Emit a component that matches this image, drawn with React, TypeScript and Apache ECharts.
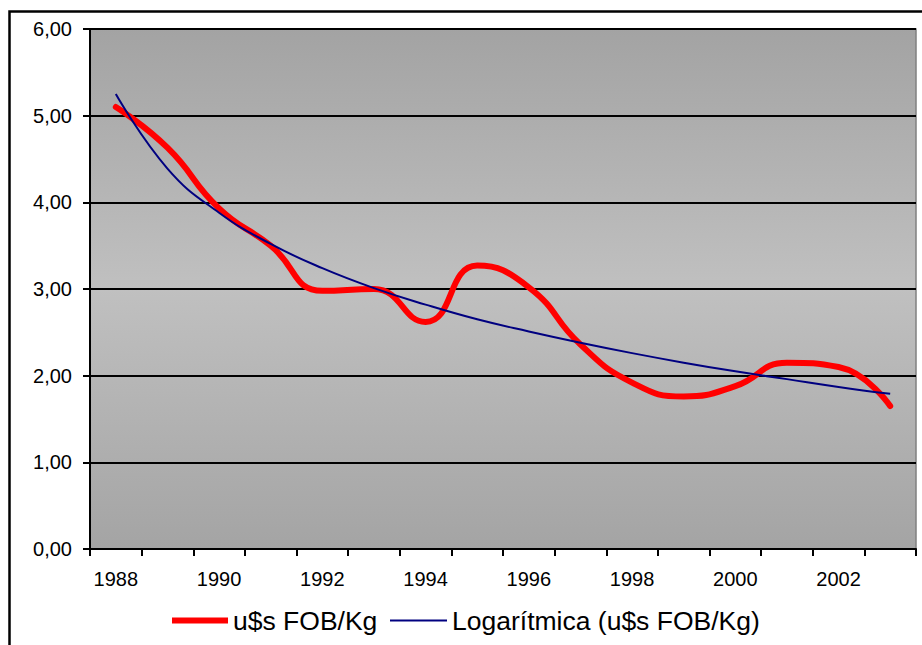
import React, { useEffect, useRef } from "react";
import * as echarts from "echarts";

const years = ["1988","1989","1990","1991","1992","1993","1994","1995","1996","1997","1998","1999","2000","2001","2002","2003"];
const fobValues = [5.10, 4.63, 3.93, 3.50, 2.98, 3.00, 2.62, 3.27, 3.02, 2.36, 1.92, 1.76, 1.88, 2.15, 2.10, 1.65];
const trendValues = [5.25, 4.39, 3.88, 3.52, 3.24, 3.01, 2.82, 2.65, 2.51, 2.38, 2.26, 2.15, 2.05, 1.96, 1.87, 1.79];
const seriesNames = ["u$s FOB/Kg", "Logarítmica (u$s FOB/Kg)"];

const FONT = "'Liberation Sans', Arial, sans-serif";

export default function App() {
  const ref = useRef<HTMLDivElement>(null);
  useEffect(() => {
    document.body.style.margin = "0";
    const chart = echarts.init(ref.current!, null, { renderer: "svg" });
    const legendText = { fontFamily: FONT, fontSize: 26.5, color: "#000" };
    chart.setOption({
      animation: false,
      backgroundColor: "#ffffff",
      grid: {
        left: 90,
        top: 29,
        right: 6,
        bottom: 96,
        show: true,
        borderColor: "#808080",
        borderWidth: 1.5,
        backgroundColor: new echarts.graphic.LinearGradient(0, 0, 0, 1, [
          { offset: 0, color: "#a3a3a3" },
          { offset: 0.5, color: "#c0c0c0" },
          { offset: 1, color: "#a4a4a4" },
        ]),
      },
      graphic: [
        {
          type: "polyline",
          shape: { points: [[9.5, 700], [9.5, 11.5], [930, 11.5]] },
          style: { stroke: "#000", lineWidth: 2.5, fill: null },
          silent: true,
        },
      ],
      legend: [
        {
          left: 172,
          top: 607,
          padding: 0,
          icon: "rect",
          itemWidth: 56,
          itemHeight: 6,
          textStyle: legendText,
          data: [seriesNames[0]],
        },
        {
          left: 390,
          top: 607,
          padding: 0,
          icon: "rect",
          itemWidth: 57,
          itemHeight: 2,
          textStyle: legendText,
          data: [seriesNames[1]],
        },
      ],
      xAxis: {
        type: "category",
        data: years,
        boundaryGap: true,
        axisLine: { lineStyle: { color: "#000", width: 2 } },
        axisTick: { show: true, interval: 0, length: 7, lineStyle: { color: "#000", width: 2 } },
        axisLabel: { interval: 1, margin: 20, fontFamily: FONT, fontSize: 20, color: "#000" },
        splitLine: { show: false },
      },
      yAxis: {
        type: "value",
        min: 0,
        max: 6,
        interval: 1,
        axisLine: { show: true, lineStyle: { color: "#000", width: 2 } },
        axisTick: { show: true, length: 7, lineStyle: { color: "#000", width: 2 } },
        axisLabel: {
          margin: 18,
          fontFamily: FONT,
          fontSize: 20,
          color: "#000",
          formatter: (v: number) => v.toFixed(2).replace(".", ","),
        },
        splitLine: { show: true, lineStyle: { color: "#000", width: 2 } },
      },
      series: [
        {
          name: seriesNames[0],
          type: "line",
          data: fobValues,
          smooth: 0.5,
          symbol: "none",
          lineStyle: { color: "#ff0000", width: 6, cap: "round" },
          itemStyle: { color: "#ff0000" },
          z: 2,
        },
        {
          name: seriesNames[1],
          type: "line",
          data: trendValues,
          smooth: 0.45,
          symbol: "none",
          lineStyle: { color: "#000080", width: 2 },
          itemStyle: { color: "#000080" },
          z: 3,
        },
      ],
    });
    return () => chart.dispose();
  }, []);
  return <div ref={ref} style={{ width: 922, height: 645 }} />;
}
